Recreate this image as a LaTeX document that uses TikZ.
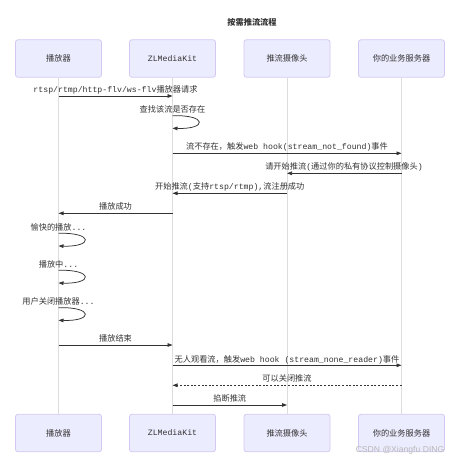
\documentclass[tikz,border=0pt]{standalone}
\usepackage{fontspec}
\setmainfont{Liberation Mono}
\newfontfamily\cjk{Noto Sans CJK SC}
\newfontfamily\wmfont{Liberation Sans}
\usetikzlibrary{arrows.meta}
\definecolor{actfill}{HTML}{ECECFF}
\definecolor{actdraw}{HTML}{D4C8F2}
\definecolor{lifeln}{HTML}{DDDDDD}
\definecolor{ink}{HTML}{333333}
\begin{document}
\begin{tikzpicture}[x=1pt,y=-1pt,
  every node/.style={font=\fontsize{8.2}{10}\selectfont, text=ink, inner sep=0pt},
  actor/.style={draw=actdraw, fill=actfill, line width=0.8pt, rounded corners=2.5pt,
    minimum width=86pt, minimum height=37.5pt},
  life/.style={draw=lifeln, line width=0.9pt},
  msg/.style={draw=ink, line width=0.75pt, -{Triangle[length=5pt,width=3.6pt]}},
  reply/.style={msg, dash pattern=on 2pt off 1.6pt},
  lbl/.style={anchor=base}
]
\useasboundingbox (0,0) rectangle (448,462);
\fill[white] (0,0) rectangle (448,462);

\node[font=\fontsize{8.2}{10}\selectfont\cjk\bfseries] (title) at (252,22) {按需推流流程};

% actors top
\node[actor] (a1) at (58.5,58.5) {\cjk 播放器};
\node[actor] (a2) at (172.5,58.5) {ZLMediaKit};
\node[actor] (a3) at (287,58.5) {\cjk 推流摄像头};
\node[actor] (a4) at (401.5,58.5) {\cjk 你的业务服务器};
% actors bottom
\node[actor] (b1) at (58.5,433) {\cjk 播放器};
\node[actor] (b2) at (172.5,433) {ZLMediaKit};
\node[actor] (b3) at (287,433) {\cjk 推流摄像头};
\node[actor] (b4) at (401.5,433) {\cjk 你的业务服务器};

% lifelines
\draw[life] (a1.south) -- (b1.north);
\draw[life] (a2.south) -- (b2.north);
\draw[life] (a3.south) -- (b3.north);
\draw[life] (a4.south) -- (b4.north);

% 1
\node[lbl] (l1) at (115.5,93) {rtsp/rtmp/http-flv/ws-flv{\cjk 播放器请求}};
\draw[msg] (a1 |- 0,96) -- (a2 |- 0,96);
% 2 self
\node[lbl] (l2) at (172.5,113) {\cjk 查找该流是否存在};
\draw[msg] (a2 |- 0,115.7) .. controls +(35,-1) and +(35,1) .. (a2 |- 0,128.3);
% 3
\node[lbl] (l3) at (287,149.7) {{\cjk 流不存在，触发}web hook(stream\_not\_found){\cjk 事件}};
\draw[msg] (a2 |- 0,153.3) -- (a4 |- 0,153.3);
% 4
\node[lbl] (l4) at (344,169.7) {{\cjk 请开始推流}({\cjk 通过你的私有协议控制摄像头})};
\draw[msg] (a4 |- 0,173.3) -- (a3 |- 0,173.3);
% 5
\node[lbl] (l5) at (229.75,189.7) {{\cjk 开始推流}({\cjk 支持}rtsp/rtmp),{\cjk 流注册成功}};
\draw[msg] (a3 |- 0,193.3) -- (a2 |- 0,193.3);
% 6
\node[lbl] (l6) at (115.5,209.7) {\cjk 播放成功};
\draw[msg] (a2 |- 0,213.3) -- (a1 |- 0,213.3);
% 7 self
\node[lbl] (l7) at (58.5,230.3) {{\cjk 愉快的播放}...};
\draw[msg] (a1 |- 0,233.3) .. controls +(35,-1) and +(35,1) .. (a1 |- 0,246);
% 8 self
\node[lbl] (l8) at (58.5,267.3) {{\cjk 播放中}...};
\draw[msg] (a1 |- 0,270.3) .. controls +(35,-1) and +(35,1) .. (a1 |- 0,283);
% 9 self
\node[lbl] (l9) at (58.5,304.7) {{\cjk 用户关闭播放器}...};
\draw[msg] (a1 |- 0,307.7) .. controls +(35,-1) and +(35,1) .. (a1 |- 0,320.3);
% 10
\node[lbl] (l10) at (115.5,341.3) {\cjk 播放结束};
\draw[msg] (a1 |- 0,345) -- (a2 |- 0,345);
% 11
\node[lbl] (l11) at (287,362) {{\cjk 无人观看流，触发}web hook ({stream\_none\_reader}){\cjk 事件}};
\draw[msg] (a2 |- 0,365.3) -- (a4 |- 0,365.3);
% 12
\node[lbl] (l12) at (287,381.3) {\cjk 可以关闭推流};
\draw[reply] (a4 |- 0,385.3) -- (a2 |- 0,385.3);
% 13
\node[lbl] (l13) at (229.75,401.3) {\cjk 掐断推流};
\draw[msg] (a2 |- 0,405) -- (a3 |- 0,405);

% watermark
\node[anchor=east, font=\fontsize{8.6}{10}\selectfont\wmfont, text=black!28] (wm) at (444.5,450) {CSDN @Xiangfu DING};
\end{tikzpicture}
\end{document}
